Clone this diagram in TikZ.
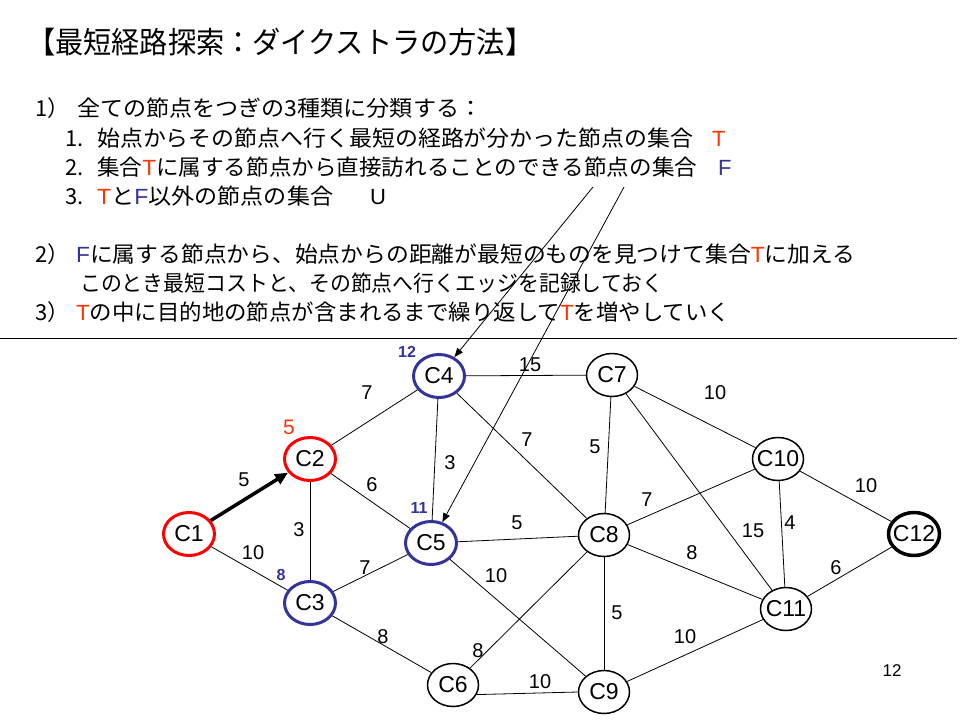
\documentclass[tikz,border=0pt]{standalone}
\usepackage{fontspec}
\usepackage{graphicx}
\setmainfont{Liberation Sans}
\newfontfamily\jp{Noto Sans CJK JP}
\usetikzlibrary{arrows.meta,shapes.geometric}
\definecolor{tred}{HTML}{FF3300}
\definecolor{nblue}{HTML}{333399}
\definecolor{nred}{HTML}{FF0000}
\newcommand\fitw[2]{\resizebox{#1}{\height}{#2}}
\newcommand\setT{{\rmfamily\color{tred}T}}
\newcommand\setF{{\rmfamily\color{nblue}F}}
\begin{document}
\begin{tikzpicture}[x=1pt,y=-1pt,
 nd/.style={ellipse,draw,line width=1.5pt,minimum width=51pt,minimum height=43pt,inner sep=0pt,font=\fontsize{23}{23}\selectfont},
 rnd/.style={nd,draw=nred,line width=3pt},
 bnd/.style={nd,draw=nblue,line width=3pt},
 edge/.style={line width=0.8pt},
 el/.style={font=\fontsize{20}{20}\selectfont,inner sep=0pt},
 dl/.style={font=\fontsize{16}{16}\selectfont\bfseries,text=nblue,inner sep=0pt},
 jt/.style={anchor=base west,inner sep=0pt,font=\jp\fontsize{22}{22}\selectfont},
 lt/.style={anchor=base west,inner sep=0pt,font=\fontsize{22}{22}\selectfont},
]
\useasboundingbox (0,0) rectangle (960,720);
% title and text
\node[anchor=base west,inner sep=0pt,font=\jp\fontsize{30}{30}\selectfont] (title) at (27,53) {\fitw{506pt}{【最短経路探索：ダイクストラの方法】}};
\node[jt] (l1) at (35,116) {\makebox[42pt][l]{1）}\fitw{405pt}{全ての節点をつぎの3種類に分類する：}};
\node[jt] (l11) at (65,146) {\makebox[32pt][l]{1.}\fitw{596pt}{始点からその節点へ行く最短の経路が分かった節点の集合}};
\node[lt,text=tred] (t1) at (712,146) {T};
\node[jt] (l12) at (65,175) {\makebox[32pt][l]{2.}\fitw{600pt}{集合\setT に属する節点から直接訪れることのできる節点の集合}};
\node[lt,text=nblue] (f1) at (718,175) {F};
\node[jt] (l13) at (65,204) {\makebox[32pt][l]{3.}\fitw{236pt}{\setT と\setF 以外の節点の集合}};
\node[lt] (u1) at (370,204) {U};
\node[jt] (l2) at (35,262) {\makebox[41pt][l]{2）}\fitw{779pt}{\setF に属する節点から、始点からの距離が最短のものを見つけて集合\setT に加える}};
\node[jt] (l2b) at (80,291) {\fitw{583pt}{このとき最短コストと、その節点へ行くエッジを記録しておく}};
\node[jt] (l3) at (35,320) {\makebox[41pt][l]{3）}\fitw{654pt}{\setT の中に目的地の節点が含まれるまで繰り返して\setT を増やしていく}};
\coordinate (r1) at (0,338);
\coordinate (r2) at (957,338);
\draw[line width=1pt] (r1) -- (r2);
% nodes
\node[rnd] (c1) at (189,534) {\makebox[0pt]{C1}};
\node[rnd] (c2) at (310,459) {\makebox[0pt]{C2}};
\node[bnd] (c3) at (310,603) {\makebox[0pt]{C3}};
\node[bnd] (c4) at (439,376) {\makebox[0pt]{C4}};
\node[bnd] (c5) at (431,543) {\makebox[0pt]{C5}};
\node[nd] (c6) at (453,685) {\makebox[0pt]{C6}};
\node[nd] (c7) at (612,375) {\makebox[0pt]{C7}};
\node[nd] (c8) at (604,535) {\makebox[0pt]{C8}};
\node[nd] (c9) at (604,692) {\makebox[0pt]{C9}};
\node[nd] (c10) at (778,459) {\makebox[0pt]{C10}};
\node[nd] (c11) at (786,609) {\makebox[0pt]{C11}};
\node[nd,line width=3.5pt] (c12) at (914,534) {\makebox[0pt]{C12}};
% edges
\draw[line width=3.5pt,-{Triangle[length=13pt,width=11pt]}] (c1) -- (c2);
\foreach \a/\b in {c1/c3,c2/c4,c2/c3,c2/c5,c4/c5,c3/c5,c4/c7,c4/c8,c5/c8,c5/c9,c3/c6,c6/c8,c7/c8,c7/c10,c7/c11,c8/c10,c8/c11,c8/c9,c9/c11,c10/c11,c10/c12,c11/c12}
  \draw[edge] (\a) -- (\b);
\draw[edge] (c6.-22) -- (c9.west);
\coordinate (a1) at (593,187);
\coordinate (a2) at (624,187);
\draw[edge,-{Triangle[length=9pt,width=7pt]}] (a1) -- (c4);
\draw[edge,-{Triangle[length=9pt,width=7pt]}] (a2) -- (c5);
% distance labels
\node[dl] (d4) at (407,352) {12};
\node[dl] (d5) at (419,508) {11};
\node[dl] (d3) at (281,575) {8};
\node[inner sep=0pt,font=\fontsize{21}{21}\selectfont,text=tred] (d2) at (289,427) {5};
% edge labels
\node[el] at (244,480) {5};
\node[el] at (253,553) {10};
\node[el] at (367,393) {7};
\node[el] at (299,530) {3};
\node[el] at (372,485) {6};
\node[el] at (450,463) {3};
\node[el] at (365,568) {7};
\node[el] at (530,365) {15};
\node[el] at (527,440) {7};
\node[el] at (517,523) {5};
\node[el] at (496,576) {10};
\node[el] at (383,637) {8};
\node[el] at (478,651) {8};
\node[el] at (540,682) {10};
\node[el] at (595,447) {5};
\node[el] at (715,393) {10};
\node[el] at (753,531) {15};
\node[el] at (647,500) {7};
\node[el] at (692,553) {8};
\node[el] at (617,613) {5};
\node[el] at (685,637) {10};
\node[el] at (790,523) {4};
\node[el] at (866,486) {10};
\node[el] at (836,568) {6};
\node[inner sep=0pt,font=\fontsize{17}{17}\selectfont] (pg) at (892,671) {12};
\end{tikzpicture}
\end{document}
